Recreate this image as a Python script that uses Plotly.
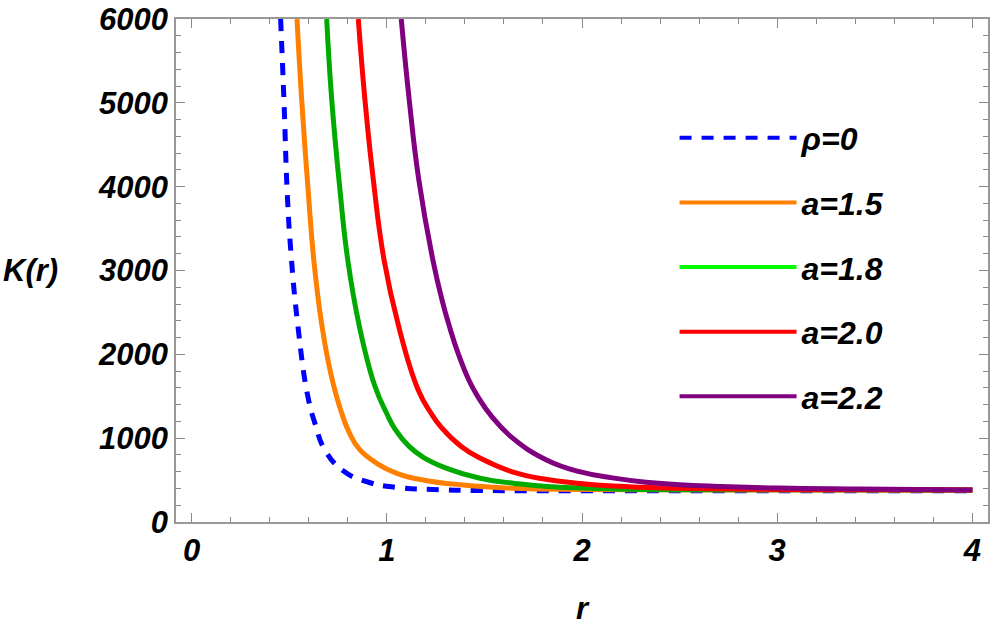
import plotly.graph_objects as go

# values
r_rho0 = [0.456, 0.473, 0.490, 0.509, 0.544, 0.594, 0.632, 0.683, 0.778, 0.911, 1.055, 1.273, 1.477, 2.0, 3.0, 4.0]
K_rho0 = [6000, 5034, 3925, 3209, 2350, 1515, 1175, 859, 608, 471, 412, 385, 376, 373, 372, 372]

r_a15 = [0.540, 0.564, 0.598, 0.626, 0.667, 0.714, 0.769, 0.806, 0.858, 0.948, 1.051, 1.185, 1.390, 1.646, 2.0, 3.0, 4.0]
K_a15 = [6000, 5034, 3925, 3125, 2350, 1760, 1297, 1074, 871, 700, 581, 501, 441, 402, 388, 382, 381]

r_a18 = [0.692, 0.718, 0.759, 0.800, 0.858, 0.937, 0.999, 1.042, 1.113, 1.187, 1.307, 1.472, 1.657, 1.821, 2.159, 3.0, 4.0]
K_a18 = [6000, 5034, 3984, 3125, 2350, 1634, 1297, 1108, 905, 772, 640, 525, 460, 423, 395, 384, 381]

r_a20 = [0.854, 0.888, 0.931, 0.986, 1.059, 1.161, 1.226, 1.278, 1.383, 1.477, 1.647, 1.821, 1.990, 2.159, 2.502, 3.015, 4.0]
K_a20 = [6000, 5034, 4079, 3125, 2350, 1575, 1300, 1133, 898, 763, 596, 507, 459, 429, 402, 388, 382]

r_a22 = [1.074, 1.116, 1.164, 1.236, 1.283, 1.325, 1.358, 1.420, 1.468, 1.535, 1.645, 1.818, 1.987, 2.156, 2.328, 2.499, 2.668, 3.011, 3.42, 4.0]
K_a22 = [6000, 5010, 4080, 3126, 2648, 2300, 2060, 1694, 1490, 1265, 1000, 740, 600, 526, 474, 445, 427, 405, 394, 383]

x_ticks = [0, 1, 2, 3, 4]
y_ticks = [0, 1000, 2000, 3000, 4000, 5000, 6000]

series = [
    ("\u03c1=0", r_rho0, K_rho0, "#0000ff", "#0000ff", "12px,10px"),
    ("a=1.5", r_a15, K_a15, "#ff8000", "#ff8000", "solid"),
    ("a=1.8", r_a18, K_a18, "#00aa00", "#00ff00", "solid"),
    ("a=2.0", r_a20, K_a20, "#ff0000", "#ff0000", "solid"),
    ("a=2.2", r_a22, K_a22, "#800080", "#800080", "solid"),
]

def bold_italic(size):
    return dict(family="Liberation Sans", size=size, color="black", weight="bold", style="italic")

fig = go.Figure()
# curves
for name, xs, ys, col, legcol, dash in series:
    fig.add_trace(go.Scatter(x=xs, y=ys, mode="lines", showlegend=False, hoverinfo="skip",
                             line=dict(color=col, width=5, dash=dash, shape="spline", smoothing=1.3)))
# legend entries (legend green is brighter than the curve)
for i, (name, xs, ys, col, legcol, dash) in enumerate(series):
    fig.add_trace(go.Scatter(x=[None], y=[None], mode="lines", name=name, legendgroup=str(i),
                             line=dict(color=legcol, width=4, dash=dash)))

axis_common = dict(
    showline=True, linecolor="#999999", linewidth=1.5, mirror="allticks",
    ticks="inside", ticklen=9, tickwidth=1.2, tickcolor="#888888",
    showgrid=False, zeroline=False, tickfont=bold_italic(31), automargin=False,
    ticklabeloverflow="allow",
)

fig.update_xaxes(range=[-0.08, 4.08], tickvals=x_ticks, ticklabelstandoff=0,
                 minor=dict(ticks="inside", ticklen=5, dtick=0.2, tickcolor="#888888", showgrid=False),
                 title=dict(text="r", font=bold_italic(31), standoff=30), **axis_common)
fig.update_yaxes(range=[0, 6000], tickvals=y_ticks, ticklabelstandoff=0,
                 minor=dict(ticks="inside", ticklen=5, dtick=200, tickcolor="#888888", showgrid=False),
                 **axis_common)

fig.add_annotation(text="K(r)", xref="paper", yref="paper", x=-0.215, y=0.5,
                   xanchor="left", yanchor="middle", showarrow=False, font=bold_italic(31))

fig.update_layout(
    width=996, height=636,
    margin=dict(l=176, r=8, t=19, b=114),
    plot_bgcolor="white", paper_bgcolor="white",
    legend=dict(x=0.614, y=0.818, xanchor="left", yanchor="top", font=bold_italic(32),
                itemwidth=117, tracegroupgap=20, bgcolor="rgba(0,0,0,0)"),
)

# drop the page's default body margin so the figure fills the window
fig.write_html("out.html", config={"displayModeBar": False},
               post_script="document.body.style.margin = '0';")
